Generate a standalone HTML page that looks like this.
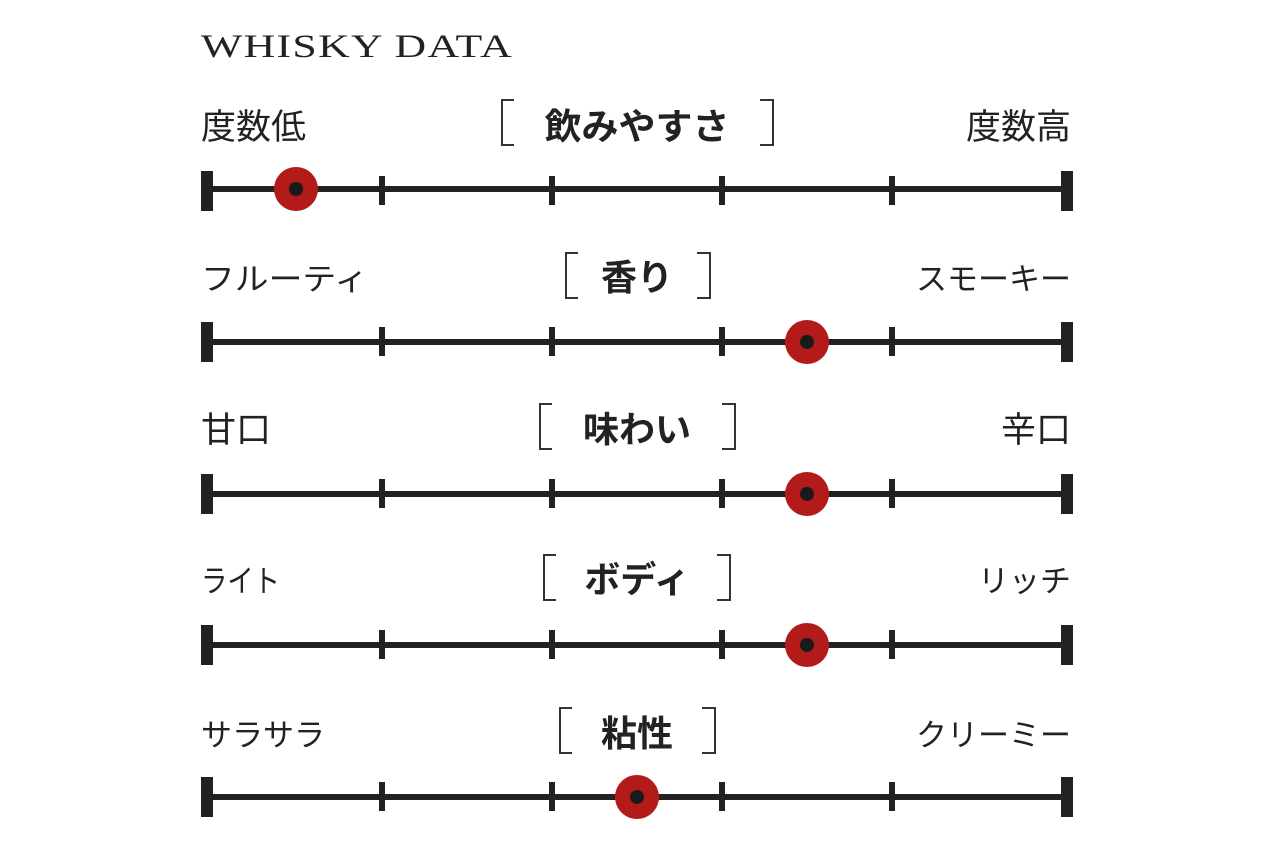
<!DOCTYPE html>
<html><head><meta charset="utf-8"><style>
html,body{margin:0;padding:0;background:#fff;width:1280px;height:853px;overflow:hidden}
svg{display:block}
.t{font-family:"Liberation Serif",serif;font-size:33px;fill:#222;letter-spacing:1px}
.l{font-family:"Liberation Sans","Noto Sans CJK JP",sans-serif;font-size:31px;fill:#222}
.k{font-size:35px}
.h{font-family:"Liberation Sans","Noto Sans CJK JP",sans-serif;font-size:36px;font-weight:bold;fill:#222}
</style></head><body>
<svg width="1280" height="853" viewBox="0 0 1280 853">
<text class="t" x="201" y="57" textLength="312" lengthAdjust="spacingAndGlyphs">WHISKY DATA</text>
<g>
<text class="l k" x="201" y="139">度数低</text>
<text class="l k" x="1071" y="139" text-anchor="end">度数高</text>
<text class="h" x="637" y="139" text-anchor="middle" textLength="185" lengthAdjust="spacingAndGlyphs">飲みやすさ</text>
<path d="M514 100 H502 V145 H514 M760 100 H773 V145 H760" fill="none" stroke="#333" stroke-width="2"/>
<rect x="201" y="186" width="872" height="6" fill="#222"/>
<rect x="201" y="171" width="12" height="40" fill="#222"/><rect x="1061" y="171" width="12" height="40" fill="#222"/>
<rect x="379" y="176" width="6" height="29" fill="#222"/><rect x="549" y="176" width="6" height="29" fill="#222"/><rect x="719" y="176" width="6" height="29" fill="#222"/><rect x="889" y="176" width="6" height="29" fill="#222"/>
<circle cx="296" cy="189" r="22" fill="#b31b1b"/><circle cx="296" cy="189" r="7" fill="#1a1a1a"/>
</g>
<g>
<text class="l" x="201" y="290" textLength="167" lengthAdjust="spacingAndGlyphs">フルーティ</text>
<text class="l" x="1071" y="290" text-anchor="end">スモーキー</text>
<text class="h" x="637" y="290" text-anchor="middle">香り</text>
<path d="M578 253 H566 V298 H578 M697 253 H710 V298 H697" fill="none" stroke="#333" stroke-width="2"/>
<rect x="201" y="339" width="872" height="6" fill="#222"/>
<rect x="201" y="322" width="12" height="40" fill="#222"/><rect x="1061" y="322" width="12" height="40" fill="#222"/>
<rect x="379" y="327" width="6" height="29" fill="#222"/><rect x="549" y="327" width="6" height="29" fill="#222"/><rect x="719" y="327" width="6" height="29" fill="#222"/><rect x="889" y="327" width="6" height="29" fill="#222"/>
<circle cx="807" cy="342" r="22" fill="#b31b1b"/><circle cx="807" cy="342" r="7" fill="#1a1a1a"/>
</g>
<g>
<text class="l k" x="201" y="442">甘口</text>
<text class="l k" x="1071" y="442" text-anchor="end">辛口</text>
<text class="h" x="637" y="442" text-anchor="middle">味わい</text>
<path d="M552 404 H540 V449 H552 M722 404 H735 V449 H722" fill="none" stroke="#333" stroke-width="2"/>
<rect x="201" y="491" width="872" height="6" fill="#222"/>
<rect x="201" y="474" width="12" height="40" fill="#222"/><rect x="1061" y="474" width="12" height="40" fill="#222"/>
<rect x="379" y="479" width="6" height="29" fill="#222"/><rect x="549" y="479" width="6" height="29" fill="#222"/><rect x="719" y="479" width="6" height="29" fill="#222"/><rect x="889" y="479" width="6" height="29" fill="#222"/>
<circle cx="807" cy="494" r="22" fill="#b31b1b"/><circle cx="807" cy="494" r="7" fill="#1a1a1a"/>
</g>
<g>
<text class="l" x="201" y="592" textLength="79" lengthAdjust="spacingAndGlyphs">ライト</text>
<text class="l" x="1071" y="592" text-anchor="end">リッチ</text>
<text class="h" x="637" y="592" text-anchor="middle">ボディ</text>
<path d="M556 555 H544 V600 H556 M717 555 H730 V600 H717" fill="none" stroke="#333" stroke-width="2"/>
<rect x="201" y="642" width="872" height="6" fill="#222"/>
<rect x="201" y="625" width="12" height="40" fill="#222"/><rect x="1061" y="625" width="12" height="40" fill="#222"/>
<rect x="379" y="630" width="6" height="29" fill="#222"/><rect x="549" y="630" width="6" height="29" fill="#222"/><rect x="719" y="630" width="6" height="29" fill="#222"/><rect x="889" y="630" width="6" height="29" fill="#222"/>
<circle cx="807" cy="645" r="22" fill="#b31b1b"/><circle cx="807" cy="645" r="7" fill="#1a1a1a"/>
</g>
<g>
<text class="l" x="201" y="746">サラサラ</text>
<text class="l" x="1071" y="746" text-anchor="end">クリーミー</text>
<text class="h" x="637" y="746" text-anchor="middle">粘性</text>
<path d="M572 708 H560 V753 H572 M702 708 H715 V753 H702" fill="none" stroke="#333" stroke-width="2"/>
<rect x="201" y="794" width="872" height="6" fill="#222"/>
<rect x="201" y="777" width="12" height="40" fill="#222"/><rect x="1061" y="777" width="12" height="40" fill="#222"/>
<rect x="379" y="782" width="6" height="29" fill="#222"/><rect x="549" y="782" width="6" height="29" fill="#222"/><rect x="719" y="782" width="6" height="29" fill="#222"/><rect x="889" y="782" width="6" height="29" fill="#222"/>
<circle cx="637" cy="797" r="22" fill="#b31b1b"/><circle cx="637" cy="797" r="7" fill="#1a1a1a"/>
</g>
</svg>
</body></html>
